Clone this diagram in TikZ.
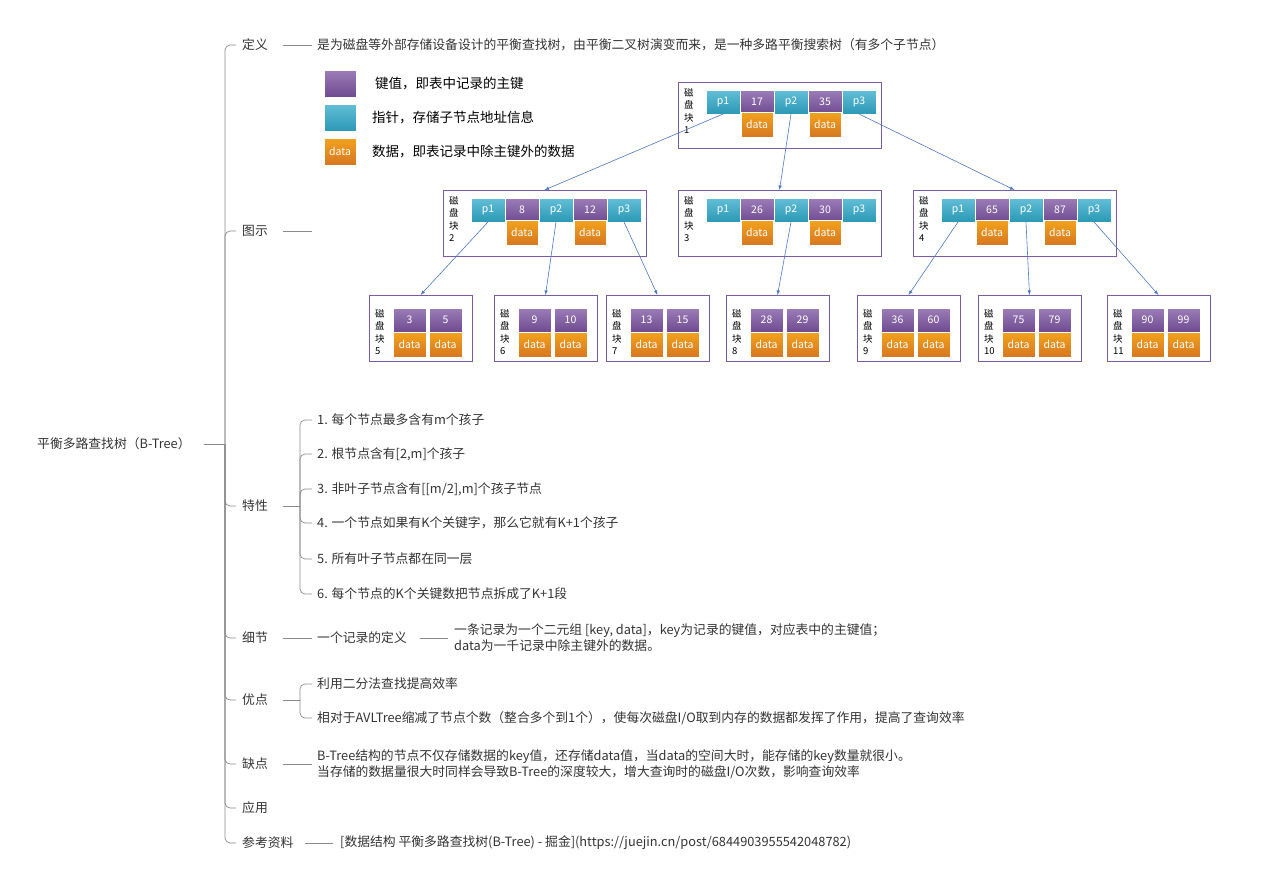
\documentclass[tikz,border=0pt]{standalone}
\usepackage{fontspec}
\setmainfont{Noto Sans CJK SC}
\usetikzlibrary{positioning, calc}

\definecolor{keyc}{HTML}{7B52A0}
\definecolor{ptrc}{HTML}{2FA9C9}
\definecolor{datc}{HTML}{EE8425}
\definecolor{txt}{HTML}{333333}
\definecolor{linec}{HTML}{8A8A8A}
\definecolor{boxc}{HTML}{7B5AA6}
\definecolor{arrc}{HTML}{4A78C0}

\tikzset{
    lbl/.style={font=\fontsize{12.8}{16}\selectfont, text=txt, anchor=west, inner sep=1pt},
    legend/.style={font=\fontsize{13.5}{16}\selectfont, text=black, anchor=west, inner sep=1pt},
    branch/.style={draw=linec, line width=0.7pt, rounded corners=5pt},
    cell/.style={anchor=north west, inner sep=0, outer sep=0, minimum height=24pt,
        text=white, font=\fontsize{10.5}{12}\selectfont, draw=white, line width=0.4pt},
    keycell/.style={cell, minimum width=34pt, top color=keyc!75, bottom color=keyc!90!black},
    ptrcell/.style={cell, minimum width=34pt, top color=ptrc!75, bottom color=ptrc!90!black},
    datcell/.style={cell, minimum width=32pt, minimum height=25pt, top color=datc!75!yellow, bottom color=datc!90!black},
    blk/.style={anchor=north west, draw=boxc, line width=0.6pt, inner sep=0, outer sep=0},
    blklbl/.style={anchor=north west, align=left, inner sep=0, font=\fontsize{9.5}{12.5}\selectfont, text=black},
    ptr/.style={-latex, draw=arrc, line width=0.6pt}
}

% inner disk block: name, x, y, number, key1, key2
\newcommand\innerblk[6]{
    \node[blk, minimum width=203pt, minimum height=66pt] (#1) at (#2,#3) {};
    \node[blklbl] at (#2+6,#3+6) {磁\\盘\\块\\#4};
    \node[ptrcell] (#1-p1) at (#2+28,#3+8) {p1};
    \node[keycell] (#1-k1) at (#1-p1.north east) {#5};
    \node[ptrcell] (#1-p2) at (#1-k1.north east) {p2};
    \node[keycell] (#1-k2) at (#1-p2.north east) {#6};
    \node[ptrcell] (#1-p3) at (#1-k2.north east) {p3};
    \node[datcell, anchor=north] at ($(#1-k1.south)+(0,-2)$) {data};
    \node[datcell, anchor=north] at ($(#1-k2.south)+(0,-2)$) {data};
}
% leaf disk block: name, x, number, key1, key2
\newcommand\leafblk[5]{
    \node[blk, minimum width=103pt, minimum height=66pt] (#1) at (#2,295) {};
    \node[blklbl] at (#2+6,309) {磁\\盘\\块\\#3};
    \node[keycell, minimum width=33pt] (#1-k1) at (#2+24,308) {#4};
    \node[keycell, minimum width=33pt] (#1-k2) at (#2+60,308) {#5};
    \node[datcell, minimum width=33pt, anchor=north] at (#1-k1.south) {data};
    \node[datcell, minimum width=33pt, anchor=north] at (#1-k2.south) {data};
}

\begin{document}
\begin{tikzpicture}[x=1pt, y=-1pt]
    \useasboundingbox (0,0) rectangle (1263,887);

    % mind map
    \node[lbl] (root) at (36,444) {平衡多路查找树（B-Tree）};
    \coordinate (spine) at (225,444);
    \draw[branch] (root.east) ++(12,0) -- (spine);
    \foreach \nm/\y/\t in {def/45/定义, pic/231/图示, prop/506/特性, det/638/细节,
                           pro/700/优点, con/764/缺点, app/808/应用, ref/843/参考资料} {
        \node[lbl] (\nm) at (241,\y) {\t};
        \draw[branch] (spine) |- ($(\nm.west)+(-5,0)$);
    }

    \node[lbl] (def-t) at (316,45) {是为磁盘等外部存储设备设计的平衡查找树，由平衡二叉树演变而来，是一种多路平衡搜索树（有多个子节点）};
    \draw[branch] (283,45) -- (312,45);
    \draw[branch] (283,231) -- (312,231);

    \coordinate (prop-j) at (300,506);
    \draw[branch] (283,506) -- (prop-j);
    \foreach \i/\y/\t in {1/420/{1. 每个节点最多含有m个孩子}, 2/454/{2. 根节点含有[2,m]个孩子},
            3/489/{3. 非叶子节点含有[[m/2],m]个孩子节点}, 4/523/{4. 一个节点如果有K个关键字，那么它就有K+1个孩子},
            5/559/{5. 所有叶子节点都在同一层}, 6/594/{6. 每个节点的K个关键数把节点拆成了K+1段}} {
        \node[lbl] (prop-\i) at (316,\y) {\t};
        \draw[branch] (prop-j) |- ($(prop-\i.west)+(-4,0)$);
    }

    \node[lbl] (det-t) at (316,638) {一个记录的定义};
    \draw[branch] (283,638) -- (312,638);
    \node[lbl, align=left] (det-d) at (453,638) {一条记录为一个二元组 [key, data]，key为记录的键值，对应表中的主键值；\\data为一千记录中除主键外的数据。};
    \draw[branch] (420,638) -- (448,638);

    \coordinate (pro-j) at (300,700);
    \draw[branch] (283,700) -- (pro-j);
    \node[lbl] (pro-1) at (316,684) {利用二分法查找提高效率};
    \node[lbl] (pro-2) at (316,718) {相对于AVLTree缩减了节点个数（整合多个到1个），使每次磁盘I/O取到内存的数据都发挥了作用，提高了查询效率};
    \foreach \i in {1,2} \draw[branch] (pro-j) |- ($(pro-\i.west)+(-4,0)$);

    \draw[branch] (283,764) -- (312,764);
    \node[lbl, align=left] (con-t) at (316,764) {B-Tree结构的节点不仅存储数据的key值，还存储data值，当data的空间大时，能存储的key数量就很小。\\当存储的数据量很大时同样会导致B-Tree的深度较大，增大查询时的磁盘I/O次数，影响查询效率};

    \draw[branch] (305,843) -- (333,843);
    \node[lbl] (ref-t) at (339,843) {[数据结构 平衡多路查找树(B-Tree) - 掘金](https://juejin.cn/post/6844903955542048782)};

    % legend
    \node[keycell, minimum width=32pt, minimum height=27pt] (lg-k) at (324,70) {};
    \node[ptrcell, minimum width=32pt, minimum height=27pt] (lg-p) at (324,104) {};
    \node[datcell, minimum width=32pt, minimum height=27pt] (lg-d) at (324,138) {data};
    \node[legend] at (374,84) {键值，即表中记录的主键};
    \node[legend] at (371,117) {指针，存储子节点地址信息};
    \node[legend] at (371,151) {数据，即表记录中除主键外的数据};

    % disk blocks
    \innerblk{b1}{678}{82}{1}{17}{35}
    \innerblk{b2}{443}{190}{2}{8}{12}
    \innerblk{b3}{678}{190}{3}{26}{30}
    \innerblk{b4}{913}{190}{4}{65}{87}
    \leafblk{b5}{369}{5}{3}{5}
    \leafblk{b6}{494}{6}{9}{10}
    \leafblk{b7}{606}{7}{13}{15}
    \leafblk{b8}{726}{8}{28}{29}
    \leafblk{b9}{857}{9}{36}{60}
    \leafblk{b10}{978}{10}{75}{79}
    \leafblk{b11}{1107}{11}{90}{99}

    \draw[ptr] (b1-p1.south) -- (b2.north);
    \draw[ptr] (b1-p2.south) -- (b3.north);
    \draw[ptr] (b1-p3.south) -- (b4.north);
    \draw[ptr] (b2-p1.south) -- (b5.north);
    \draw[ptr] (b2-p2.south) -- (b6.north);
    \draw[ptr] (b2-p3.south) -- (b7.north);
    \draw[ptr] (b3-p2.south) -- (b8.north);
    \draw[ptr] (b4-p1.south) -- (b9.north);
    \draw[ptr] (b4-p2.south) -- (b10.north);
    \draw[ptr] (b4-p3.south) -- (b11.north);
\end{tikzpicture}
\end{document}
